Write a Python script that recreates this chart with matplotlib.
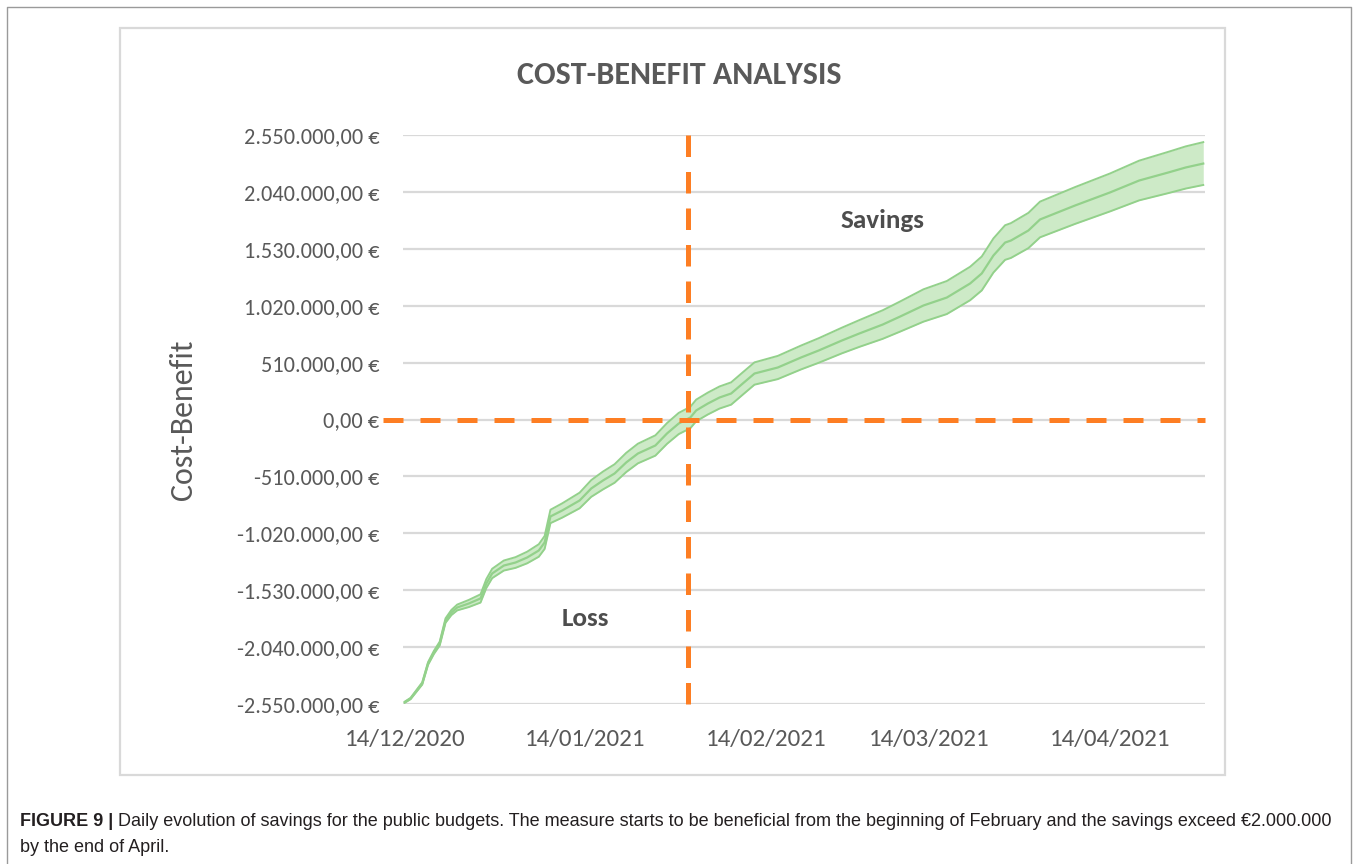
import numpy as np
import matplotlib
matplotlib.use("Agg")
import matplotlib.pyplot as plt
import matplotlib.dates as mdates
from matplotlib import font_manager
from matplotlib.patches import Rectangle

# estimated cumulative cost-benefit (thousand euros)
dates = ["2020-12-14", "2020-12-15", "2020-12-17", "2020-12-18", "2020-12-19",
         "2020-12-20", "2020-12-21", "2020-12-22", "2020-12-23", "2020-12-25",
         "2020-12-27", "2020-12-28", "2020-12-29", "2020-12-31", "2021-01-02",
         "2021-01-04", "2021-01-06", "2021-01-07", "2021-01-08", "2021-01-10",
         "2021-01-13", "2021-01-15", "2021-01-17", "2021-01-19", "2021-01-21",
         "2021-01-23", "2021-01-26", "2021-01-28", "2021-01-30", "2021-02-01",
         "2021-02-02", "2021-02-04", "2021-02-06", "2021-02-08", "2021-02-10",
         "2021-02-12", "2021-02-16", "2021-02-20", "2021-02-23", "2021-02-27",
         "2021-03-02", "2021-03-06", "2021-03-09", "2021-03-13", "2021-03-17",
         "2021-03-21", "2021-03-23", "2021-03-25", "2021-03-27", "2021-03-28",
         "2021-03-31", "2021-04-02", "2021-04-08", "2021-04-14", "2021-04-19",
         "2021-04-24", "2021-04-27", "2021-04-30"]
mean_k = [-2534, -2501, -2366, -2187, -2088, -2008, -1802, -1730, -1685, -1649,
          -1604, -1470, -1380, -1309, -1282, -1237, -1174, -1102, -869, -816,
          -726, -618, -547, -484, -385, -305, -233, -125, -36, 18,
          81, 143, 197, 233, 323, 412, 466, 556, 618, 708,
          771, 851, 923, 1022, 1093, 1219, 1309, 1470, 1586, 1604,
          1694, 1793, 1918, 2035, 2142, 2214, 2259, 2294]
spread_k = [5, 6, 10, 12, 14, 17, 20, 23, 26, 32,
            37, 40, 42, 45, 48, 52, 56, 58, 60, 64,
            70, 75, 80, 83, 86, 88, 91, 93, 95, 96,
            97, 98, 99, 100, 100, 100, 104, 107, 110, 115,
            120, 128, 135, 145, 148, 150, 152, 153, 155, 156,
            158, 160, 165, 170, 178, 185, 189, 192]

yticks = [-2550000, -2040000, -1530000, -1020000, -510000, 0,
          510000, 1020000, 1530000, 2040000, 2550000]
xtick_dates = ["2020-12-14", "2021-01-14", "2021-02-14", "2021-03-14", "2021-04-14"]
break_even = "2021-01-31T14:00"

available = {f.name for f in font_manager.fontManager.ttflist}
main_font = "Carlito" if "Carlito" in available else "Lato"
cap_font = "Liberation Sans Narrow" if "Liberation Sans Narrow" in available else "Liberation Sans"
plt.rcParams["font.family"] = [main_font, "DejaVu Sans"]

grey = "#595959"
green_line = "#93d18b"
green_fill = "#cdeac7"
orange = "#fd7e23"

x = np.array(dates, dtype="datetime64[D]")
mean = np.array(mean_k) * 1000
spread = np.array(spread_k) * 1000

fig = plt.figure(figsize=(13.58, 8.64), dpi=100)
ax = fig.add_axes([403 / 1358, 1 - 704 / 864, 802 / 1358, 569 / 864])

ax.fill_between(x, mean - spread, mean + spread, color=green_fill, lw=0, zorder=2)
ax.plot(x, mean + spread, color=green_line, lw=1.4, zorder=3)
ax.plot(x, mean - spread, color=green_line, lw=1.4, zorder=3)
ax.plot(x, mean, color=green_line, lw=1.6, zorder=3)

ax.plot([-0.025, 1.0], [0, 0], transform=ax.get_yaxis_transform(), clip_on=False,
        color=orange, lw=3.6, dashes=(4, 3.4), zorder=4)
bx = mdates.date2num(np.datetime64(break_even))
ax.plot([bx, bx], [1.0, -0.015], transform=ax.get_xaxis_transform(), clip_on=False,
        color=orange, lw=3.6, dashes=(4.3, 3.0), zorder=4)

ax.set_xlim(mdates.date2num(np.datetime64("2020-12-14")) - 0.3,
            mdates.date2num(np.datetime64("2021-04-30")) + 0.3)
ax.set_ylim(-2550000, 2550000)
ax.set_yticks(yticks)
ax.set_yticklabels([f"{v:,.2f}".replace(",", "X").replace(".", ",").replace("X", ".") + " €"
                    for v in yticks])
ax.set_xticks(mdates.date2num(np.array(xtick_dates, dtype="datetime64[D]")))
ax.set_xticklabels([d[8:10] + "/" + d[5:7] + "/" + d[0:4] for d in xtick_dates])
ax.tick_params(axis="y", length=0, pad=17, labelsize=16, labelcolor=grey)
ax.tick_params(axis="x", length=0, pad=18, labelsize=18, labelcolor=grey)
ax.grid(axis="y", color="#d9d9d9", lw=1.6, zorder=0)
ax.set_axisbelow(True)
for s in ax.spines.values():
    s.set_visible(False)

fig.text(679 / 1358, 1 - 75 / 864, "COST-BENEFIT ANALYSIS", ha="center", va="center",
         fontsize=23, fontweight="bold", color=grey)
fig.text(183 / 1358, 1 - 420 / 864, "Cost-Benefit", rotation=90, ha="center",
         va="center", fontsize=23, color=grey)
fig.text(883 / 1358, 1 - 221 / 864, "Savings", ha="center", va="center",
         fontsize=19.5, fontweight="bold", color="#4d4d4d")
fig.text(585 / 1358, 1 - 619 / 864, "Loss", ha="center", va="center",
         fontsize=19.5, fontweight="bold", color="#4d4d4d")

# chart border and page frame
fig.patches.append(Rectangle((120 / 1358, 1 - 775 / 864), 1105 / 1358, 747 / 864,
                             transform=fig.transFigure, fill=False,
                             edgecolor="#d9d9d9", lw=1.6))
fig.add_artist(plt.Line2D([7 / 1358, 7 / 1358, 1351 / 1358, 1351 / 1358],
                          [0, 1 - 7 / 864, 1 - 7 / 864, 0], transform=fig.transFigure,
                          color="#9a9a9a", lw=1.0))

# caption
cap_size = 13
cap_y1 = 1 - 821 / 864
cap_y2 = 1 - 847 / 864
bold = fig.text(20 / 1358, cap_y1, "FIGURE 9 | ", fontsize=cap_size, fontweight="bold",
                family=cap_font, va="center", color="#231f20")
fig.canvas.draw()
bb = bold.get_window_extent()
fig.text(bb.x1 / 1358, cap_y1,
         "Daily evolution of savings for the public budgets. The measure starts to be "
         "beneficial from the beginning of February and the savings exceed €2.000.000",
         fontsize=cap_size, family=cap_font, va="center", color="#231f20")
fig.text(20 / 1358, cap_y2, "by the end of April.", fontsize=cap_size, family=cap_font,
         va="center", color="#231f20")

fig.savefig("out.png", dpi=100)
